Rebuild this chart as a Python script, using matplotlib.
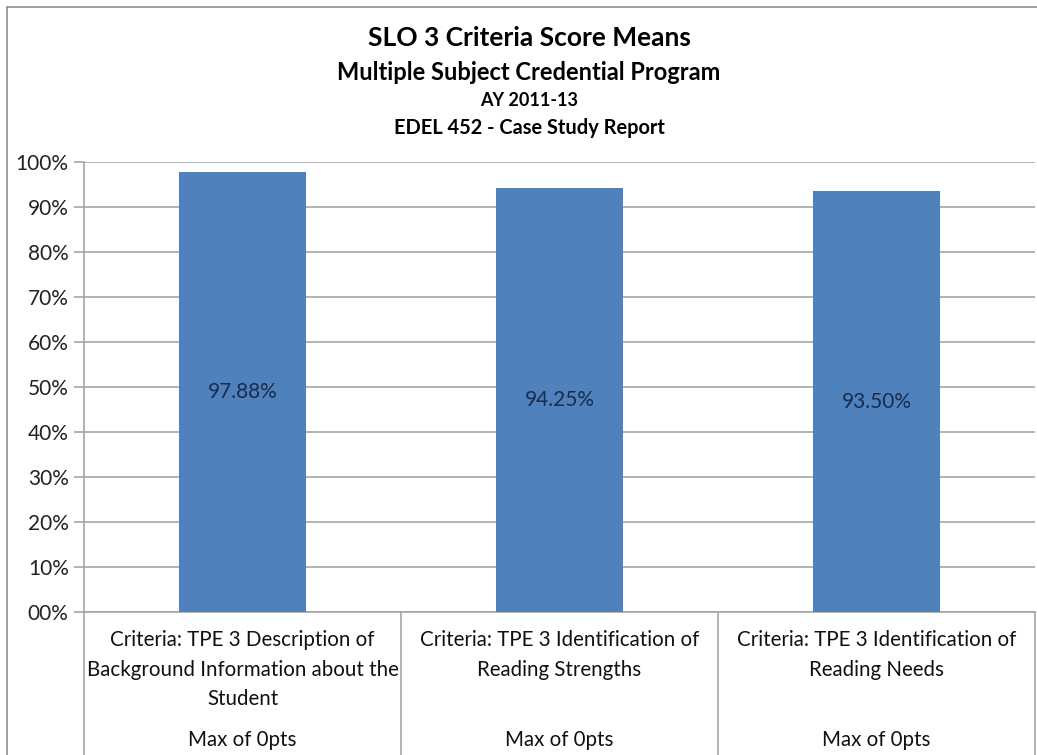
import matplotlib.pyplot as plt
from matplotlib.patches import Rectangle
import numpy as np

# data
categories = [
    "Criteria: TPE 3 Description of\nBackground Information about the\nStudent",
    "Criteria: TPE 3 Identification of\nReading Strengths",
    "Criteria: TPE 3 Identification of\nReading Needs",
]
sub_labels = ["Max of 0pts", "Max of 0pts", "Max of 0pts"]
means = [97.88, 94.25, 93.50]
yticks = [0, 10, 20, 30, 40, 50, 60, 70, 80, 90, 100]
ytick_labels = ["00%", "10%", "20%", "30%", "40%", "50%", "60%", "70%", "80%", "90%", "100%"]
title_lines = [
    "SLO 3 Criteria Score Means",
    "Multiple Subject Credential Program",
    "AY 2011-13",
    "EDEL 452 - Case Study Report",
]

plt.rcParams['font.family'] = ['Lato', 'DejaVu Sans']

W, H = 1037, 755
fig = plt.figure(figsize=(W / 100, H / 100), dpi=100)
fig.patch.set_facecolor('white')

# outer chart frame
fig.patches.append(Rectangle((7 / W, -0.01), 1.1, (748 / H) + 0.01, transform=fig.transFigure,
                             fill=False, edgecolor='#8c8c8c', linewidth=1.2))

ax = fig.add_axes([84 / W, (H - 612) / H, (1035 - 84) / W, 450 / H])
x = np.arange(len(categories)) + 0.5
bars = ax.bar(x, means, width=0.4, color='#4f81bd', zorder=3)

ax.set_xlim(0, len(categories))
ax.set_ylim(0, 100)
ax.set_yticks(yticks)
ax.set_yticklabels(ytick_labels, fontsize=15, color='#222222')
ax.set_xticks([])
ax.yaxis.grid(True, color='#a6a6a6', linewidth=1.2, zorder=0)
ax.tick_params(axis='y', length=7, color='#a6a6a6', width=1.2, pad=4)
for s in ['top', 'right']:
    ax.spines[s].set_visible(False)
ax.spines['left'].set_color('#a6a6a6')
ax.spines['bottom'].set_color('#a6a6a6')
ax.spines['left'].set_linewidth(1.2)
ax.spines['bottom'].set_linewidth(1.2)

# data labels in the middle of the bars
for xi, v in zip(x, means):
    ax.text(xi, v / 2, f"{v:.2f}%", ha='center', va='center', fontsize=15, color='#1a2c4e', zorder=4)

# category labels with divider lines below the axis
below = 143 / 450
for i in range(len(categories) + 1):
    ax.axvline(i, ymin=-below, ymax=0, clip_on=False, color='#a6a6a6', linewidth=1.2)
for xi, lab, sub in zip(x, categories, sub_labels):
    ax.text(xi, -18 / 450, lab, transform=ax.get_xaxis_transform(), ha='center', va='top',
            fontsize=14.8, color='#111111', linespacing=1.6)
    ax.text(xi, -128 / 450, sub, transform=ax.get_xaxis_transform(), ha='center', va='center',
            fontsize=14.8, color='#111111')

# title block
fig.text(529 / W, 1 - 38 / H, title_lines[0], ha='center', va='center', fontsize=19, fontweight='bold')
fig.text(529 / W, 1 - 72 / H, title_lines[1], ha='center', va='center', fontsize=17, fontweight='bold')
fig.text(529 / W, 1 - 100 / H, title_lines[2], ha='center', va='center', fontsize=13, fontweight='bold')
fig.text(529 / W, 1 - 128 / H, title_lines[3], ha='center', va='center', fontsize=14.4, fontweight='bold')

fig.savefig('out.png', dpi=100)
